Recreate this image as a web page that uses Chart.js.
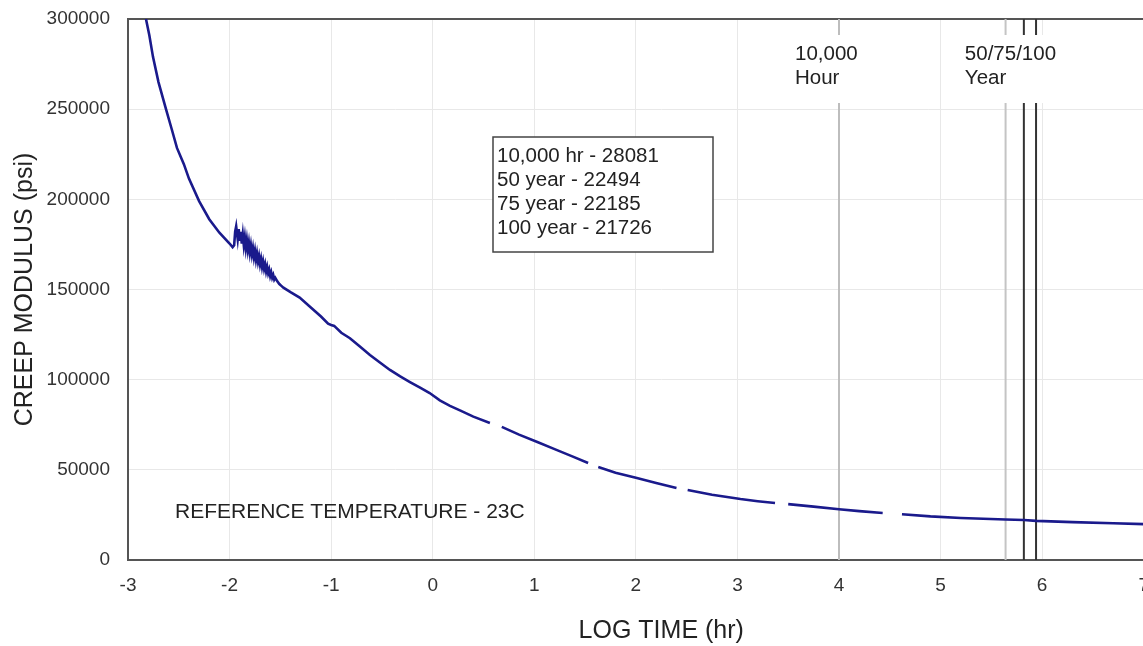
<!DOCTYPE html>
<html>
<head>
<meta charset="utf-8">
<title>Creep modulus vs log time</title>
<script src="https://cdn.jsdelivr.net/npm/chart.js@4/dist/chart.umd.min.js"></script>
<style>
  html, body { margin: 0; padding: 0; background: #fff; overflow: hidden; }
  #wrap { width: 1143px; height: 646px; overflow: hidden; }
  canvas { display: block; }
</style>
</head>
<body>
<div id="wrap"><canvas id="creep" width="1200" height="646" style="width:1200px;height:646px"></canvas></div>
<script>
// ── data ─────────────────────────────────────────────────
// log10(time, hr) and creep modulus (psi); null = gap in the plotted curve
const logTime = [
  -2.823, -2.79, -2.754, -2.70, -2.626, -2.57, -2.518, -2.45, -2.40, -2.30,
  -2.20, -2.10, -2.00, -1.97, -1.955, -1.945, -1.935,
  -1.92, -1.91, -1.90, -1.89, -1.88, -1.87, -1.86, -1.85, -1.84, -1.83,
  -1.82, -1.81, -1.80, -1.79, -1.78, -1.77, -1.76, -1.75, -1.74, -1.73,
  -1.72, -1.71, -1.70, -1.69, -1.68, -1.67, -1.66, -1.65, -1.64, -1.63,
  -1.62, -1.61, -1.60, -1.59, -1.58, -1.57, -1.56, -1.55, -1.53, -1.51,
  -1.49, -1.47, -1.40, -1.31, -1.20, -1.10, -1.03, -1.00, -0.97, -0.90,
  -0.815, -0.72, -0.618, -0.52, -0.421, -0.32, -0.224, -0.12, -0.03, 0.07,
  0.17, 0.268, 0.40, 0.563, 0.62, 0.68, 0.85, 1.03, 1.20, 1.38,
  1.53, 1.58, 1.63, 1.80, 2.01, 2.20, 2.40, 2.45, 2.51, 2.75,
  3.03, 3.20, 3.37, 3.43, 3.50, 3.75, 4.00, 4.20, 4.43, 4.52,
  4.62, 4.90, 5.20, 5.64, 5.82, 5.94, 6.30, 6.70, 7.00
];
const modulus = [
  300000, 291000, 279000, 265000, 250000, 239000, 228500, 219500, 211500, 199000,
  189000, 181500, 175500, 173500, 174500, 182000, 185000,
  178000, 183500, 177000, 182000, 175500, 180500, 174500, 179000, 173000, 177500,
  172000, 176000, 170500, 174500, 169500, 173000, 168000, 171500, 166500, 170000,
  165500, 168500, 164000, 167000, 162500, 165500, 161500, 164000, 160000, 162500,
  159000, 161000, 157500, 159500, 156500, 158000, 155500, 156500, 154500, 153000,
  152000, 151000, 148500, 145500, 140000, 135000, 131000, 130300, 129800, 126000,
  123000, 118500, 113700, 109500, 105400, 101800, 98700, 95500, 92600, 88500,
  85500, 83000, 79500, 76000, null, 73800, 69500, 65400, 61500, 57300,
  53800, null, 51600, 48400, 45500, 42700, 39900, null, 38800, 36200,
  33800, 32600, 31600, null, 31000, 29600, 28100, 27100, 26100, null,
  25400, 24200, 23300, 22500, 22200, 21700, 21000, 20400, 19900
];

// design-life marker lines (log hr): 10,000 hr, 50 / 75 / 100 year
const markerLogTime = [4, 5.64, 5.82, 5.94];
const markerColors  = ['#bdbdbd', '#c4c4c4', '#333333', '#333333'];

// the original plot runs past the right edge of the picture
const xTicks = { min: -3, max: 7.5, step: 1 };
const yTicks = { min: 0, max: 300000, step: 50000 };

const boxLines = ['10,000 hr - 28081', '50 year - 22494', '75 year - 22185', '100 year - 21726'];
const markerLabels = [['10,000', 'Hour'], ['50/75/100', 'Year']];
const refNote = 'REFERENCE TEMPERATURE - 23C';

const FONT = '"Liberation Sans", Arial, Helvetica, sans-serif';
const TEXT = '#222';
const NO_TICK = 'rgba(0,0,0,0)';

/* ── annotations drawn on top of the datasets ─────────── */
const notesPlugin = {
  id: 'notes',
  afterDatasetsDraw(chart) {
    const { ctx, scales: { x } } = chart;
    ctx.save();
    ctx.font = `20.5px ${FONT}`;
    ctx.textBaseline = 'middle';
    ctx.textAlign = 'left';

    // marker captions sit on white, cutting the vertical lines
    const caps = [
      { left: x.getPixelForValue(4) - 44, w: 88 },
      { left: x.getPixelForValue(5.82) - 59, w: 104 }
    ];
    caps.forEach((c, i) => {
      ctx.fillStyle = '#fff';
      ctx.fillRect(c.left - 6, 35, c.w, 68);
      ctx.fillStyle = TEXT;
      ctx.fillText(markerLabels[i][0], c.left, 54);
      ctx.fillText(markerLabels[i][1], c.left, 78);
    });

    // value box
    const bx = 493, by = 137, bw = 220, bh = 115;
    ctx.fillStyle = '#fff';
    ctx.fillRect(bx, by, bw, bh);
    ctx.strokeStyle = '#444';
    ctx.lineWidth = 1.5;
    ctx.strokeRect(bx, by, bw, bh);
    ctx.fillStyle = TEXT;
    boxLines.forEach((t, i) => ctx.fillText(t, bx + 4, by + 19 + i * 24));

    // reference temperature note
    ctx.font = `21px ${FONT}`;
    ctx.fillText(refNote, 175, 512);
    ctx.restore();
  }
};

const curve = logTime.map((t, i) => ({ x: t, y: modulus[i] }));

const markerSets = markerLogTime.map((t, i) => ({
  data: [{ x: t, y: yTicks.min }, { x: t, y: yTicks.max }],
  borderColor: markerColors[i],
  borderWidth: 2,
  pointRadius: 0,
  order: 2
}));

new Chart(document.getElementById('creep'), {
  type: 'line',
  data: {
    datasets: [
      ...markerSets,
      {
        label: 'Creep modulus',
        data: curve,
        borderColor: '#1a1a8c',
        borderWidth: 2.6,
        pointRadius: 0,
        spanGaps: false,
        tension: 0,
        order: 1
      }
    ]
  },
  options: {
    responsive: false,
    devicePixelRatio: 1,
    animation: false,
    layout: { padding: { top: 19, right: 5.5, bottom: 0, left: 0 } },
    plugins: { legend: { display: false }, tooltip: { enabled: false } },
    scales: {
      x: {
        type: 'linear',
        min: xTicks.min, max: xTicks.max,
        afterFit: s => { s.height = 86; },
        afterBuildTicks: s => { s.ticks = s.ticks.filter(t => Number.isInteger(t.value)); },
        grid: { color: '#e8e8e8', tickLength: 14, tickColor: NO_TICK },
        border: { color: '#555', width: 2 },
        ticks: { stepSize: xTicks.step, padding: 0, color: '#333', font: { family: FONT, size: 19 } },
        title: { display: true, text: 'LOG TIME (hr)', color: TEXT, font: { family: FONT, size: 25 }, padding: { top: 0, bottom: 0 } }
      },
      xTop: {
        type: 'linear',
        position: 'top',
        min: xTicks.min, max: xTicks.max,
        afterFit: s => { s.height = 0; },
        grid: { display: false },
        border: { color: '#555', width: 2 },
        ticks: { display: false }
      },
      y: {
        min: yTicks.min, max: yTicks.max,
        afterFit: s => { s.width = 128; },
        grid: { color: '#e8e8e8', tickLength: 18, tickColor: NO_TICK },
        border: { color: '#555', width: 2 },
        ticks: {
          stepSize: yTicks.step, padding: 0, color: '#333',
          font: { family: FONT, size: 19 },
          callback: v => String(v)
        },
        title: { display: true, text: 'CREEP MODULUS (psi)', color: TEXT, font: { family: FONT, size: 25 }, padding: { top: 10, bottom: 0 } }
      }
    }
  },
  plugins: [notesPlugin]
});
</script>
</body>
</html>
